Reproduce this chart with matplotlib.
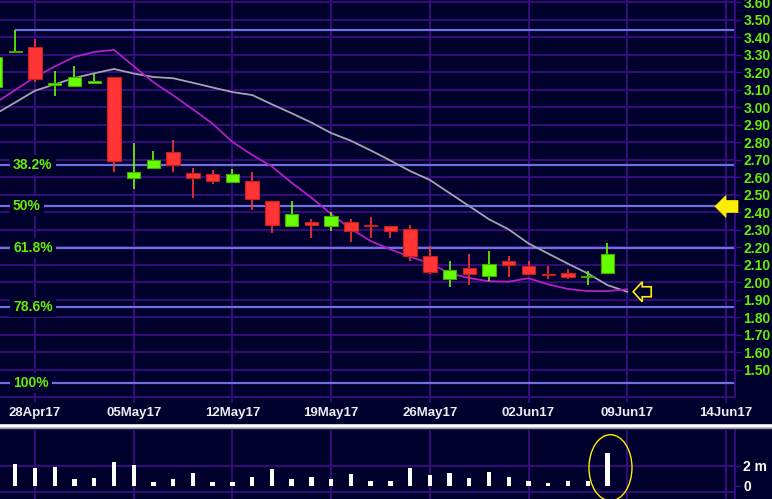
# Daily candles with two moving averages, fib retracement and volume pane
import numpy as np
import matplotlib.pyplot as plt
import matplotlib.transforms as mtransforms
from matplotlib.patches import Polygon, Ellipse
from matplotlib.lines import Line2D

plt.rcParams['font.family'] = ['Liberation Sans', 'DejaVu Sans']
plt.rcParams['font.weight'] = 'bold'

# trading day positions, 0 = 28Apr17
day_pos = list(range(-2, 30))
opens  = [3.115, 3.315, 3.345, 3.127, 3.125, 3.140, 3.173, 2.598, 2.655, 2.743,
          2.623, 2.618, 2.572, 2.579, 2.465, 2.323, 2.345, 2.323, 2.345, 2.329,
          2.322, 2.306, 2.150, 2.022, 2.080, 2.037, 2.123, 2.093, 2.051, 2.055,
          2.030, 2.057]
highs  = [3.290, 3.443, 3.390, 3.210, 3.238, 3.192, 3.175, 2.795, 2.750, 2.815,
          2.655, 2.642, 2.646, 2.629, 2.467, 2.465, 2.360, 2.404, 2.360, 2.375,
          2.325, 2.330, 2.207, 2.121, 2.160, 2.179, 2.152, 2.121, 2.093, 2.075,
          2.065, 2.228]
lows   = [3.115, 3.310, 3.145, 3.068, 3.118, 3.140, 2.632, 2.532, 2.655, 2.630,
          2.485, 2.565, 2.570, 2.415, 2.283, 2.323, 2.257, 2.295, 2.230, 2.257,
          2.257, 2.123, 2.047, 1.975, 1.988, 2.009, 2.032, 2.041, 2.022, 2.018,
          1.988, 2.057]
closes = [3.290, 3.320, 3.163, 3.140, 3.173, 3.145, 2.695, 2.630, 2.700, 2.670,
          2.598, 2.581, 2.618, 2.475, 2.331, 2.394, 2.331, 2.381, 2.295, 2.322,
          2.295, 2.150, 2.058, 2.074, 2.051, 2.108, 2.102, 2.051, 2.040, 2.033,
          2.037, 2.160]
# volume in millions (first day is off the left edge)
volume = [np.nan, 2.17, 1.83, 1.93, 0.68, 0.81, 2.44, 2.10, 0.41, 0.68,
          1.26, 0.41, 0.41, 0.91, 1.69, 0.68, 0.91, 0.65, 1.16, 0.48,
          0.48, 1.83, 1.09, 1.26, 0.75, 1.36, 0.91, 0.48, 0.24, 0.48,
          0.48, 3.29]

# moving averages run one day past the last candle
ma_pos = list(range(-2, 31))
ma_fast = [3.026, 3.100, 3.174, 3.234, 3.289, 3.317, 3.329, 3.236, 3.144, 3.069,
           2.989, 2.907, 2.803, 2.729, 2.663, 2.570, 2.485, 2.391, 2.306, 2.237,
           2.189, 2.147, 2.110, 2.053, 2.025, 2.007, 2.005, 2.024, 1.989, 1.963,
           1.951, 1.951, 1.961]
ma_slow = [2.963, 3.029, 3.096, 3.132, 3.169, 3.195, 3.220, 3.194, 3.174, 3.167,
           3.141, 3.114, 3.088, 3.071, 3.018, 2.967, 2.914, 2.854, 2.810, 2.755,
           2.697, 2.637, 2.586, 2.511, 2.436, 2.361, 2.303, 2.223, 2.165, 2.107,
           2.052, 1.985, 1.947]

date_pos = [0, 5, 10, 15, 20, 25, 30, 35]
date_lbl = ["28Apr17", "05May17", "12May17", "19May17", "26May17",
            "02Jun17", "09Jun17", "14Jun17"]

fib_high, fib_low = 3.443, 1.426
fib_ratio = [0.0, 0.382, 0.5, 0.618, 0.786, 1.0]
fib_lbl = ["", "38.2%", "50%", "61.8%", "78.6%", "100%"]

bg = '#00002d'
grid_c = '#3a0d82'
fib_c = '#7070dc'
up_c, dn_c = '#66ff00', '#ff3434'
lbl_green = '#66ee00'

W, H = 772, 499
fig = plt.figure(figsize=(W/100, H/100), dpi=100, facecolor=bg)
ax = fig.add_axes([0, 1 - 397/H, 735/W, 397/H], facecolor=bg)
axv = fig.add_axes([0, 0, 735/W, 69/H], facecolor=bg)

xlim = (-1.773, 35.46)

# ---- price pane
ax.set_xlim(*xlim)
ax.set_ylim(1.3457, 3.614)
ax.set_yticks(np.round(np.arange(1.5, 3.61, 0.1), 2))
ax.set_yticklabels([f"{v:.2f}" for v in np.arange(1.5, 3.61, 0.1)])
ax.yaxis.tick_right()
ax.tick_params(axis='y', colors=grid_c, labelcolor=lbl_green, labelsize=10,
               length=4, width=1, pad=2)
ax.set_xticks(date_pos)
ax.set_xticklabels(date_lbl)
ax.tick_params(axis='x', colors=grid_c, labelcolor='#ececf4', labelsize=9.5,
               length=4, width=1.2, pad=3)
ax.grid(True, color=grid_c, lw=1.3, zorder=0)
ax.set_axisbelow(True)
for s in ['left', 'top']:
    ax.spines[s].set_visible(False)
for s in ['right', 'bottom']:
    ax.spines[s].set_color(grid_c)
    ax.spines[s].set_linewidth(1.3)

# fibonacci levels
blend = mtransforms.blended_transform_factory(ax.transAxes, ax.transData)
for r, lab in zip(fib_ratio, fib_lbl):
    lvl = fib_high - r*(fib_high - fib_low)
    x0 = -1 if r == 0 else xlim[0]
    ax.hlines(lvl, x0, xlim[1], color=fib_c, lw=1.6, zorder=2)
    if lab:
        ax.text(13/735, lvl, lab, transform=blend, color=lbl_green, fontsize=10,
                ha='left', va='center', zorder=3,
                bbox=dict(fc=bg, ec='none', pad=2.2))

# moving averages
ax.plot(ma_pos, ma_slow, color='#a4a4ac', lw=1.3, zorder=3)
ax.plot(ma_pos, ma_fast, color='#b21fc4', lw=1.3, zorder=3)

# candles
for x, o, h, l, c in zip(day_pos, opens, highs, lows, closes):
    col = up_c if c >= o else dn_c
    edge = '#3fae00' if c >= o else '#c81e1e'
    ax.vlines(x, l, h, color=col, lw=1.2, zorder=4)
    body = max(abs(c - o), 0.009)
    ax.bar(x, body, bottom=min(o, c), width=0.68, color=col,
           edgecolor=edge, linewidth=0.8, zorder=5)

# yellow arrow at the 50% level, right margin
lvl50 = fib_high - 0.5*(fib_high - fib_low)
arrow = [(0, 0), (11, 11), (11, 6), (23, 6), (23, -6), (11, -6), (11, -11)]
tr = mtransforms.Affine2D().translate(-20, 0) + \
     mtransforms.ScaledTranslation(1.0, lvl50, blend)
ax.add_patch(Polygon(arrow, closed=True, fc='#ffee00', ec='#ffee00', lw=0.5,
                     transform=tr, clip_on=False, zorder=6))

# hollow arrow pointing at the end of the averages
harrow = [(0, 0), (9, 10), (9, 5), (18, 5), (18, -5), (9, -5), (9, -10)]
tr = mtransforms.Affine2D().translate(6, 0) + \
     mtransforms.ScaledTranslation(ma_pos[-1], ma_slow[-1], ax.transData)
ax.add_patch(Polygon(harrow, closed=True, fc=bg, ec='#ffee00', lw=1.2,
                     transform=tr, clip_on=False, zorder=6))

# ---- volume pane
axv.set_xlim(*xlim)
axv.set_ylim(-1.35, 5.65)
axv.bar(day_pos, volume, width=0.22, color='white', zorder=3)
axv.set_xticks(date_pos)
axv.set_xticklabels([])
axv.tick_params(axis='x', length=0)
axv.grid(True, axis='x', color=grid_c, lw=1.3, zorder=0)
axv.axhline(2, color=grid_c, lw=1.3, zorder=0)
axv.axhline(-0.6, color=grid_c, lw=1.3, zorder=0)
axv.yaxis.tick_right()
axv.set_yticks([0, 2])
axv.set_yticklabels(['0', '2 m'])
axv.tick_params(axis='y', colors=grid_c, labelcolor='white', labelsize=10,
                length=4, width=1, pad=2)
for s in ['left', 'top', 'bottom']:
    axv.spines[s].set_visible(False)
axv.spines['right'].set_color(grid_c)
axv.spines['right'].set_linewidth(1.3)

# ring around the volume spike
last = day_pos[-1]
tr = mtransforms.Affine2D().translate(3, 18) + \
     mtransforms.ScaledTranslation(last, 0, axv.transData)
axv.add_patch(Ellipse((0, 0), 43, 66, fill=False, ec='#ffee00', lw=1.0,
                      transform=tr, clip_on=False, zorder=6))

# separator between panes
fig.add_artist(Line2D([0, 1], [1 - 425.5/H]*2, color='white', lw=2.6,
                      transform=fig.transFigure))
fig.add_artist(Line2D([0, 1], [1 - 428/H]*2, color='#9a92b0', lw=1.0,
                      transform=fig.transFigure))

fig.savefig("out.png", dpi=100, facecolor=bg)
